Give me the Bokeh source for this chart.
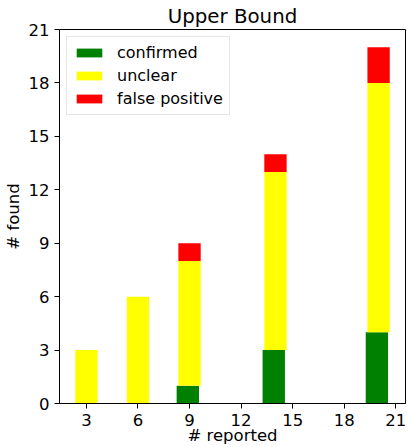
from bokeh.plotting import figure
from bokeh.models import Range1d, FixedTicker, ColumnDataSource
from bokeh.transform import dodge
from bokeh.embed import file_html
from bokeh.resources import INLINE

reported = [3, 6, 9, 14, 20]
confirmed = [0, 0, 1, 3, 4]
unclear = [3, 6, 7, 10, 14]
false_positive = [0, 0, 1, 1, 2]
x_ticks = [3, 6, 9, 12, 15, 18, 21]
y_ticks = [0, 3, 6, 9, 12, 15, 18, 21]

c_top = list(confirmed)
u_bottom = c_top
u_top = [a + b for a, b in zip(c_top, unclear)]
f_bottom = u_top
f_top = [a + b for a, b in zip(u_top, false_positive)]

src = ColumnDataSource(dict(x=reported, c0=[0] * len(reported), c1=c_top,
                            u0=u_bottom, u1=u_top, f0=f_bottom, f1=f_top))

FONT = "DejaVu Sans"
p = figure(width=407, height=447, output_backend="svg", toolbar_location=None,
           x_range=Range1d(1.435, 21.565), y_range=Range1d(0, 21),
           min_border_left=58, min_border_right=2, min_border_top=0, min_border_bottom=0,
           title="Upper Bound")
W = 1.3
p.vbar(x=dodge("x", -0.1), bottom="c0", top="c1", width=W, source=src,
       fill_color="#008000", line_color=None, legend_label="confirmed")
p.vbar(x="x", bottom="u0", top="u1", width=W, source=src,
       fill_color="#ffff00", line_color=None, legend_label="unclear")
p.vbar(x="x", bottom="f0", top="f1", width=W, source=src,
       fill_color="#ff0000", line_color=None, legend_label="false positive")

p.title.text_font = FONT
p.title.text_font_size = "19.8px"
p.title.text_font_style = "normal"
p.title.align = "center"
p.title.text_color = "#000000"
p.title.standoff = 4

p.grid.visible = False
p.outline_line_color = "#000000"
p.outline_line_width = 1
p.outline_line_alpha = 1

for ax in (p.xaxis[0], p.yaxis[0]):
    ax.major_label_text_font = FONT
    ax.major_label_text_font_size = "16.5px"
    ax.major_label_text_color = "#000000"
    ax.axis_label_text_font = FONT
    ax.axis_label_text_font_size = "16.5px"
    ax.axis_label_text_font_style = "normal"
    ax.axis_label_text_color = "#000000"
    ax.axis_line_color = "#000000"
    ax.major_tick_line_color = "#000000"
    ax.major_tick_out = 5
    ax.major_tick_in = 0
    ax.minor_tick_line_color = None
    ax.major_label_standoff = 5

p.xaxis.axis_label_standoff = -3
p.yaxis.axis_label_standoff = 3
p.xaxis.ticker = FixedTicker(ticks=x_ticks)
p.yaxis.ticker = FixedTicker(ticks=y_ticks)
p.xaxis.axis_label = "# reported"
p.yaxis.axis_label = "# found"

lg = p.legend[0]
lg.location = "top_left"
lg.margin = 7
lg.padding = 6
lg.spacing = 4
lg.glyph_width = 32
lg.glyph_height = 11
lg.label_height = 19
lg.label_standoff = 12
lg.label_text_font = FONT
lg.label_text_font_size = "16px"
lg.label_text_color = "#000000"
lg.border_line_color = "#cccccc"
lg.border_line_width = 1
lg.background_fill_alpha = 0.8

open("out.html", "w").write(file_html(p, INLINE))
